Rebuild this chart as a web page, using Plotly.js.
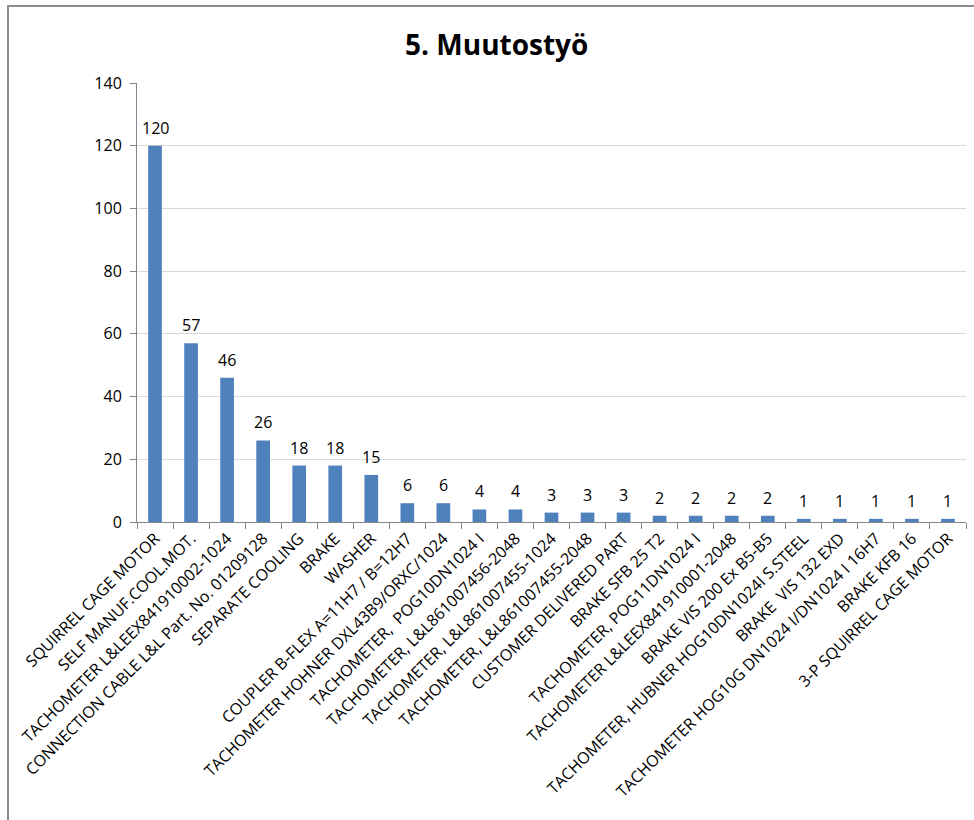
<!DOCTYPE html>
<html><head><meta charset="utf-8">
<script src="https://cdn.plot.ly/plotly-3.0.1.min.js"></script>
<style>body{margin:0;padding:0;background:#fff}#c{width:974px;height:820px}</style>
</head><body><div id="c"></div>
<script>
const categories = [
  "SQUIRREL CAGE MOTOR",
  "SELF MANUF.COOL.MOT.",
  "TACHOMETER L&LEEX841910002-1024",
  "CONNECTION CABLE L&L Part. No. 01209128",
  "SEPARATE COOLING",
  "BRAKE",
  "WASHER",
  "COUPLER B-FLEX A=11H7 / B=12H7",
  "TACHOMETER HOHNER DXL43B9/ORXC/1024",
  "TACHOMETER,  POG10DN1024 I",
  "TACHOMETER, L&L861007456-2048",
  "TACHOMETER, L&L861007455-1024",
  "TACHOMETER, L&L861007455-2048",
  "CUSTOMER DELIVERED PART",
  "BRAKE SFB 25 T2",
  "TACHOMETER, POG11DN1024 I",
  "TACHOMETER L&LEEX841910001-2048",
  "BRAKE VIS 200 Ex B5-B5",
  "TACHOMETER, HUBNER HOG10DN1024I S.STEEL",
  "BRAKE  VIS 132 EXD",
  "TACHOMETER HOG10G DN1024 I/DN1024 I 16H7",
  "BRAKE KFB 16",
  "3-P SQUIRREL CAGE MOTOR"
];
const values = [120, 57, 46, 26, 18, 18, 15, 6, 6, 4, 4, 3, 3, 3, 2, 2, 2, 2, 1, 1, 1, 1, 1];
const titleText = "5. Muutostyö";

const L = 137, R = 8, T = 83, B = 298;
const W = 974 - L - R, H = 820 - T - B;
const px = x => (x - L) / W;
const py = y => 1 - (y - T) / H;

const labelAnnotations = categories.map((c, i) => ({
  x: c, y: values[i], xref: 'x', yref: 'y',
  text: String(values[i]), showarrow: false,
  yanchor: 'bottom', yshift: 5,
  font: {family: 'Open Sans, sans-serif', size: 16, color: '#000'}
}));

Plotly.newPlot('c', [{
  type: 'bar',
  x: categories,
  y: values,
  marker: {color: '#4f81bd', line: {width: 0}},
  hoverinfo: 'x+y'
}], {
  width: 974, height: 820,
  margin: {l: L, r: R, t: T, b: B, pad: 0},
  paper_bgcolor: '#fff', plot_bgcolor: '#fff',
  bargap: 0.62,
  showlegend: false,
  font: {family: 'Open Sans, sans-serif', color: '#000'},
  title: {text: '<b>' + titleText + '</b>', x: 0.51, xanchor: 'center', y: 0.945, yanchor: 'middle',
    font: {family: 'Open Sans, sans-serif', size: 28, color: '#000'}},
  xaxis: {
    type: 'category',
    tickangle: -45,
    tickfont: {family: 'Open Sans, sans-serif', size: 16, color: '#000'},
    showline: true, linecolor: '#868686', linewidth: 1,
    ticks: 'outside', ticklen: 6, tickcolor: '#868686', tickson: 'boundaries',
    showgrid: false, automargin: false
  },
  yaxis: {
    range: [0, 140], dtick: 20,
    tickfont: {family: 'Open Sans, sans-serif', size: 16, color: '#000'},
    showline: true, linecolor: '#868686', linewidth: 1,
    ticks: 'outside', ticklen: 6, tickcolor: '#868686',
    ticklabelstandoff: 5,
    showgrid: true, gridcolor: '#d9d9d9', gridwidth: 1,
    zeroline: false, automargin: false
  },
  annotations: labelAnnotations,
  shapes: [{
    type: 'rect', xref: 'paper', yref: 'paper', layer: 'above',
    x0: px(8), x1: px(1100), y0: py(1000), y1: py(6),
    line: {color: '#8c8c8c', width: 2}, fillcolor: 'rgba(0,0,0,0)'
  }]
}, {displayModeBar: false, staticPlot: true});
</script>
</body></html>
